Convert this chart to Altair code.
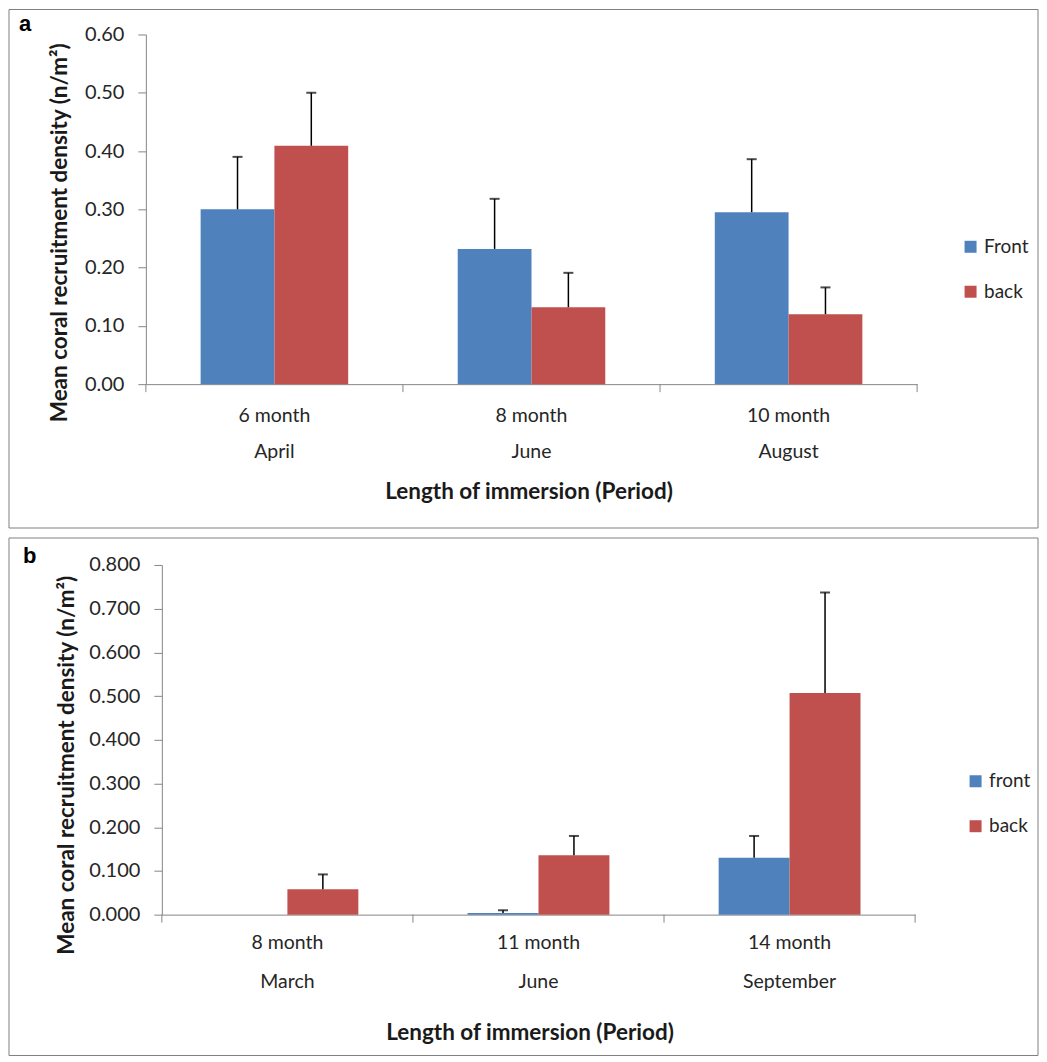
import altair as alt
import pandas as pd

# ---------------- data ----------------
cats_a = ["6 month|April", "8 month|June", "10 month|August"]
series_a = ["Front", "back"]
front_a = [0.300, 0.232, 0.295]
front_a_err = [0.090, 0.086, 0.091]
back_a = [0.409, 0.132, 0.120]
back_a_err = [0.091, 0.059, 0.046]
ticks_a = [0.0, 0.1, 0.2, 0.3, 0.4, 0.5, 0.6]

cats_b = ["8 month|March", "11 month|June", "14 month|September"]
series_b = ["front", "back"]
front_b = [0.0, 0.004, 0.130]
front_b_err = [0.0, 0.006, 0.050]
back_b = [0.058, 0.136, 0.507]
back_b_err = [0.034, 0.044, 0.230]
ticks_b = [0.0, 0.1, 0.2, 0.3, 0.4, 0.5, 0.6, 0.7, 0.8]

y_title = "Mean coral recruitment density (n/m²)"
x_title = "Length of immersion (Period)"

BLUE = "#4F81BD"
RED = "#C0504D"
AXIS = "#868686"
BORDER = "#7f7f7f"
TEXT = "#262626"


def panel(cats, series, front, ferr, back, berr, letter, x0, x1, H, ymax,
          yticks, yfmt, yoffset, pad_in, ytx, yty, xtx, xty, lab_pad, lab_lh,
          leg_x, leg_y, box, let_xy):
    rows = []
    for i, c in enumerate(cats):
        rows.append(dict(cat=c, series=series[0], value=front[i], err=ferr[i],
                         top=front[i] + ferr[i]))
        rows.append(dict(cat=c, series=series[1], value=back[i], err=berr[i],
                         top=back[i] + berr[i]))
    df = pd.DataFrame(rows)

    xscale = alt.Scale(domain=cats, range=[x0, x1], paddingInner=pad_in,
                       paddingOuter=pad_in / 2)
    yscale = alt.Scale(domain=[0, ymax], nice=False, zero=True)
    xoff = alt.XOffset("series:N", scale=alt.Scale(domain=series))

    x_axis = alt.Axis(labelExpr="split(datum.label, '|')", labelAngle=0,
                      ticks=False, labelPadding=lab_pad,
                      labelLineHeight=lab_lh, labelFontSize=19.5,
                      titleX=xtx, titleY=xty, titleBaseline="middle")
    y_axis = alt.Axis(values=yticks, format=yfmt, tickSize=8, labelPadding=14,
                      offset=yoffset, titleX=ytx, titleY=yty,
                      titleBaseline="middle")

    base = alt.Chart(df)
    bars = base.mark_bar().encode(
        x=alt.X("cat:N", scale=xscale, title=x_title, axis=x_axis),
        xOffset=xoff,
        y=alt.Y("value:Q", scale=yscale, title=y_title, axis=y_axis),
        color=alt.Color("series:N",
                        scale=alt.Scale(domain=series, range=[BLUE, RED]),
                        legend=alt.Legend(orient="none", legendX=leg_x,
                                          legendY=leg_y, title=None,
                                          symbolType="square", symbolSize=144,
                                          symbolStrokeWidth=0,
                                          labelFontSize=19, labelFont="Lato",
                                          labelColor=TEXT, rowPadding=25,
                                          labelOffset=4, padding=0)),
    )
    err = base.transform_filter("datum.err > 0")
    rules = err.mark_rule(color="black", strokeWidth=1.5).encode(
        x=alt.X("cat:N", scale=xscale, title=x_title, axis=x_axis),
        xOffset=xoff,
        y=alt.Y("value:Q", scale=yscale, title=y_title, axis=y_axis),
        y2="top:Q",
    )
    caps = err.mark_tick(color="black", size=10, thickness=2).encode(
        x=alt.X("cat:N", scale=xscale, title=x_title, axis=x_axis),
        xOffset=xoff,
        y=alt.Y("top:Q", scale=yscale, title=y_title, axis=y_axis),
    )

    # category-boundary ticks on the x axis (between the bands)
    gap_px = pad_in * ((x1 - x0) / len(cats)) / 2
    tick_df = pd.DataFrame({"cat": cats})
    tick_start = alt.Chart(tick_df).mark_rule(color=AXIS, xOffset=-gap_px).encode(
        x=alt.X("cat:N", scale=xscale, title=x_title, axis=x_axis,
                bandPosition=0),
        y=alt.value(H), y2=alt.value(H + 8),
    )
    tick_end = alt.Chart(tick_df).transform_filter(
        alt.datum.cat == cats[-1]).mark_rule(color=AXIS, xOffset=gap_px).encode(
        x=alt.X("cat:N", scale=xscale, title=x_title, axis=x_axis,
                bandPosition=1),
        y=alt.value(H), y2=alt.value(H + 8),
    )

    one = alt.Data(values=[{"k": 1}])
    border = alt.Chart(one).mark_rect(fillOpacity=0, stroke=BORDER,
                                      strokeWidth=1).encode(
        x=alt.value(box[0]), x2=alt.value(box[1]),
        y=alt.value(box[2]), y2=alt.value(box[3]),
    )
    lab = alt.Chart(one).mark_text(text=letter, font="Liberation Sans",
                                   fontSize=22, fontWeight="bold",
                                   align="left", baseline="alphabetic",
                                   color="black").encode(
        x=alt.value(let_xy[0]), y=alt.value(let_xy[1]),
    )
    return alt.layer(border, bars, rules, caps, tick_start, tick_end,
                     lab).properties(width=x1, height=H)


# both panels share the plot origin (page x = 161); panel a's axes start 16px
# further left, as in the reference
pa = panel(cats_a, series_a, front_a, front_a_err, back_a, back_a_err, "a",
           x0=-16, x1=756, H=350, ymax=0.6, yticks=ticks_a, yfmt=".2f",
           yoffset=16, pad_in=0.426, ytx=-86, yty=198, xtx=367, xty=107,
           lab_pad=22, lab_lh=36, leg_x=800, leg_y=203,
           box=(-153, 877, -25, 494), let_xy=(-143, -3))

pb = panel(cats_b, series_b, front_b, front_b_err, back_b, back_b_err, "b",
           x0=0, x1=754, H=350, ymax=0.8, yticks=ticks_b, yfmt=".3f",
           yoffset=0, pad_in=0.435, ytx=-95, yty=200, xtx=368, xty=118,
           lab_pad=19, lab_lh=39, leg_x=805, leg_y=207,
           box=(-153, 877, -27, 491), let_xy=(-139, -2))

chart = alt.vconcat(pa, pb, spacing=8).resolve_scale(
    color="independent", x="independent", y="independent",
    xOffset="independent").resolve_legend(color="independent").properties(
    padding=0, background="white"
).configure_view(stroke=None).configure_axis(
    grid=False, domainColor=AXIS, tickColor=AXIS, labelFont="Lato",
    labelFontSize=20, labelColor=TEXT, titleFont="Lato", titleFontSize=22.5,
    titleFontWeight="bold", titleColor="#1a1a1a")

chart.save("out.html", embed_options={"renderer": "svg", "actions": False})
